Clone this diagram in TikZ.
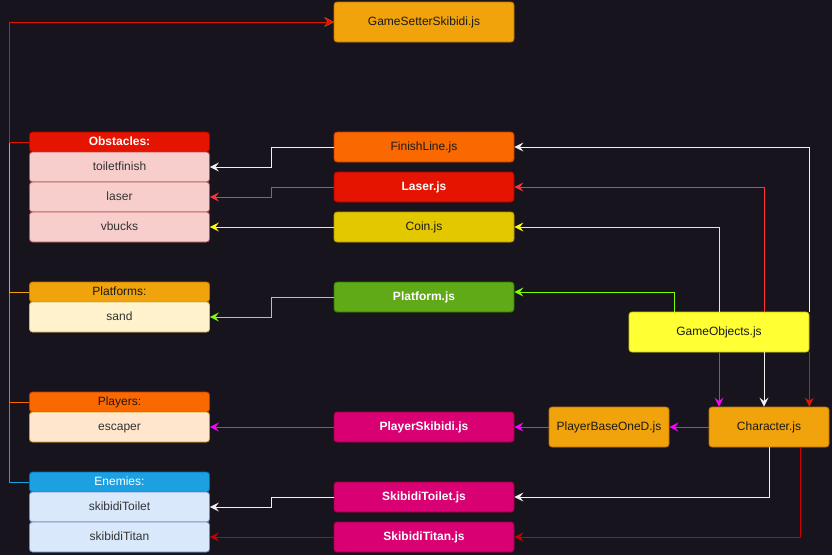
\documentclass[tikz,border=0pt]{standalone}
\usepackage{fontspec}
\setmainfont{Liberation Sans}
\usetikzlibrary{arrows.meta,calc}
\definecolor{bg}{HTML}{18141D}
\definecolor{amber}{HTML}{F0A30A}
\definecolor{amberd}{HTML}{BD7000}
\definecolor{orng}{HTML}{FA6800}
\definecolor{orngd}{HTML}{C73500}
\definecolor{redf}{HTML}{E51400}
\definecolor{redd}{HTML}{B20000}
\definecolor{yel}{HTML}{E3C800}
\definecolor{yeld}{HTML}{B09500}
\definecolor{grn}{HTML}{60A917}
\definecolor{grnd}{HTML}{2D7600}
\definecolor{mag}{HTML}{D80073}
\definecolor{magd}{HTML}{A50040}
\definecolor{blu}{HTML}{1BA1E2}
\definecolor{blud}{HTML}{006EAF}
\definecolor{pinkf}{HTML}{F8CECC}
\definecolor{pinkd}{HTML}{B85450}
\definecolor{creamf}{HTML}{FFF2CC}
\definecolor{creamd}{HTML}{D6B656}
\definecolor{peachf}{HTML}{FFE6CC}
\definecolor{peachd}{HTML}{D79B00}
\definecolor{lbluf}{HTML}{DAE8FC}
\definecolor{lblud}{HTML}{6C8EBF}
\definecolor{goy}{HTML}{FFFF33}
\definecolor{goyd}{HTML}{C8C800}
\definecolor{txt}{HTML}{1A1A1A}
\definecolor{itxt}{HTML}{333333}
\definecolor{ered}{HTML}{FF3333}
\definecolor{eyel}{HTML}{FFFF00}
\definecolor{egrn}{HTML}{80FF00}
\definecolor{emag}{HTML}{FF00FF}
\definecolor{edred}{HTML}{CC0000}
\definecolor{ewht}{HTML}{F0F0F0}
\begin{document}
\begin{tikzpicture}[x=1pt,y=-1pt,font=\fontsize{12}{14}\selectfont,
  box/.style={draw, rounded corners=3pt, line width=0.8pt, align=center, inner sep=0pt,
    minimum width=180pt, text=txt, text height=9pt, text depth=2.5pt},
  hdr/.style={box, minimum height=20pt},
  itm/.style={box, minimum height=30pt, text=itxt},
  arr/.style={line width=1pt, -{Stealth[length=9pt,width=9pt,inset=3.5pt]}},
  wb/.style={text=white, font=\fontsize{12}{14}\selectfont\bfseries}]
\fill[bg] (0,0) rectangle (832,555);
\useasboundingbox (0,0) rectangle (832,555);

% top
\node[box, fill=amber, draw=amberd, minimum height=40pt] (gs) at (424,22) {GameSetterSkibidi.js};

% left groups
\node[hdr, fill=redf, draw=redd, wb] (obs) at (119.5,142) {Obstacles:};
\node[itm, fill=pinkf, draw=pinkd] (tf) at (119.5,167) {toiletfinish};
\node[itm, fill=pinkf, draw=pinkd] (las) at (119.5,197) {laser};
\node[itm, fill=pinkf, draw=pinkd] (vb) at (119.5,227) {vbucks};

\node[hdr, fill=amber, draw=amberd] (plat) at (119.5,292) {Platforms:};
\node[itm, fill=creamf, draw=creamd] (sand) at (119.5,317) {sand};

\node[hdr, fill=orng, draw=orngd] (ply) at (119.5,402) {Players:};
\node[itm, fill=peachf, draw=peachd] (esc) at (119.5,427) {escaper};

\node[hdr, fill=blu, draw=blud, text=white] (en) at (119.5,482) {Enemies:};
\node[itm, fill=lbluf, draw=lblud] (st) at (119.5,507) {skibidiToilet};
\node[itm, fill=lbluf, draw=lblud] (stt) at (119.5,537) {skibidiTitan};

% middle column
\node[box, fill=orng, draw=orngd, minimum height=30pt] (fl) at (424,147) {FinishLine.js};
\node[box, fill=redf, draw=redd, minimum height=30pt, wb] (lj) at (424,187) {Laser.js};
\node[box, fill=yel, draw=yeld, minimum height=30pt] (cj) at (424,227) {Coin.js};
\node[box, fill=grn, draw=grnd, minimum height=30pt, wb] (pj) at (424,297) {Platform.js};
\node[box, fill=mag, draw=magd, minimum height=30pt, wb] (ps) at (424,427) {PlayerSkibidi.js};
\node[box, fill=mag, draw=magd, minimum height=30pt, wb] (stj) at (424,497) {SkibidiToilet.js};
\node[box, fill=mag, draw=magd, minimum height=30pt, wb] (sttj) at (424,537) {SkibidiTitan.js};

% right
\node[box, fill=goy, draw=goyd, minimum height=40pt] (go) at (719,332) {GameObjects.js};
\node[box, fill=amber, draw=amberd, minimum width=120pt, minimum height=40pt] (pb) at (609,427) {PlayerBaseOneD.js};
\node[box, fill=amber, draw=amberd, minimum width=120pt, minimum height=40pt] (ch) at (769,427) {Character.js};

% left spine to GameSetter
\draw[arr, blu] (en.west) -- ++(-20,0) |- (gs.west);
\draw[arr, orng] (ply.west) -- ++(-20,0) |- (gs.west);
\draw[arr, amber] (plat.west) -- ++(-20,0) |- (gs.west);
\draw[arr, redf] (obs.west) -- ++(-20,0) |- (gs.west);

% middle to left
\draw[arr, ewht] (fl.west) -- ++(-62,0) |- (tf.east);
\draw[arr, ered] (lj.west) -- ++(-62,0) |- (las.east);
\draw[arr, eyel] (cj.west) -- (vb.east);
\draw[arr, egrn] (pj.west) -- ++(-62,0) |- (sand.east);
\draw[arr, emag] (ps.west) -- (esc.east);
\draw[arr, ewht] (stj.west) -- ++(-62,0) |- (st.east);
\draw[arr, edred] (sttj.west) -- (stt.east);

% GameObjects up
\draw[arr, ewht] (go.north east) |- (fl.east);
\draw[arr, ered] ([xshift=45pt]go.north) |- (lj.east);
\draw[arr, eyel] (go.north) |- (cj.east);
\coordinate (pjin) at ([yshift=5pt]pj.east);
\draw[arr, egrn] ([xshift=-45pt]go.north) |- (pjin);

% GameObjects down to Character
\draw[arr, emag] (go.south) -- (go.south |- ch.north);
\draw[arr, ewht] ([xshift=45pt]go.south) -- ([xshift=45pt]go.south |- ch.north);
\draw[arr, redf] (go.south east) -- (go.south east |- ch.north);

% Character chain
\draw[arr, emag] (ch.west) -- (pb.east);
\draw[arr, emag] (pb.west) -- (ps.east);
\draw[arr, ewht] (ch.south) |- (stj.east);
\draw[arr, edred] ([xshift=31pt]ch.south) |- (sttj.east);
\end{tikzpicture}
\end{document}
